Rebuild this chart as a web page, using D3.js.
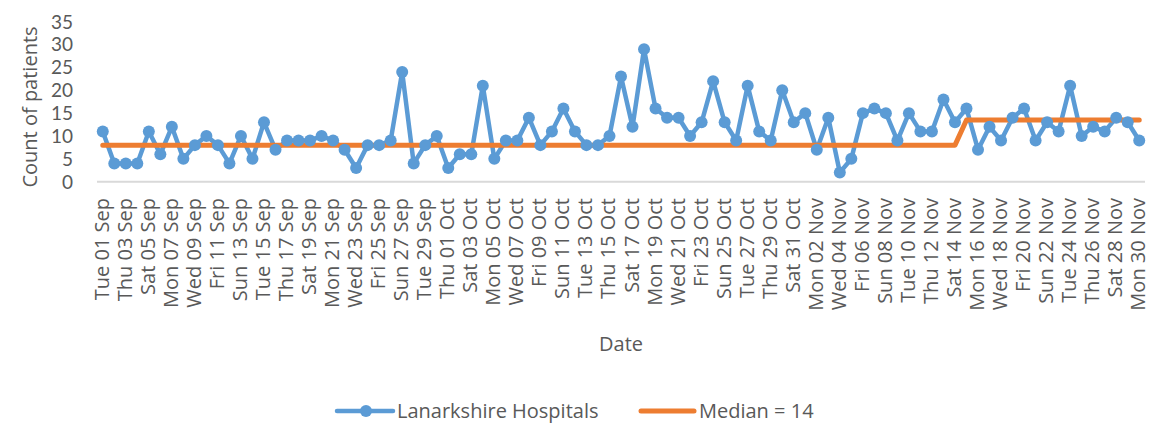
<!DOCTYPE html>
<html>
<head>
<meta charset="utf-8">
<script src="https://cdn.jsdelivr.net/npm/d3@7"></script>
<style>
  html, body { margin: 0; padding: 0; background: #ffffff; }
  svg { display: block; font-family: "Open Sans", sans-serif; }
</style>
</head>
<body>
<svg id="chart" width="1150" height="424"></svg>
<script>
const dates = [
  "Tue 01 Sep","Wed 02 Sep","Thu 03 Sep","Fri 04 Sep","Sat 05 Sep","Sun 06 Sep","Mon 07 Sep","Tue 08 Sep","Wed 09 Sep","Thu 10 Sep",
  "Fri 11 Sep","Sat 12 Sep","Sun 13 Sep","Mon 14 Sep","Tue 15 Sep","Wed 16 Sep","Thu 17 Sep","Fri 18 Sep","Sat 19 Sep","Sun 20 Sep",
  "Mon 21 Sep","Tue 22 Sep","Wed 23 Sep","Thu 24 Sep","Fri 25 Sep","Sat 26 Sep","Sun 27 Sep","Mon 28 Sep","Tue 29 Sep","Wed 30 Sep",
  "Thu 01 Oct","Fri 02 Oct","Sat 03 Oct","Sun 04 Oct","Mon 05 Oct","Tue 06 Oct","Wed 07 Oct","Thu 08 Oct","Fri 09 Oct","Sat 10 Oct",
  "Sun 11 Oct","Mon 12 Oct","Tue 13 Oct","Wed 14 Oct","Thu 15 Oct","Fri 16 Oct","Sat 17 Oct","Sun 18 Oct","Mon 19 Oct","Tue 20 Oct",
  "Wed 21 Oct","Thu 22 Oct","Fri 23 Oct","Sat 24 Oct","Sun 25 Oct","Mon 26 Oct","Tue 27 Oct","Wed 28 Oct","Thu 29 Oct","Fri 30 Oct",
  "Sat 31 Oct","Sun 01 Nov","Mon 02 Nov","Tue 03 Nov","Wed 04 Nov","Thu 05 Nov","Fri 06 Nov","Sat 07 Nov","Sun 08 Nov","Mon 09 Nov",
  "Tue 10 Nov","Wed 11 Nov","Thu 12 Nov","Fri 13 Nov","Sat 14 Nov","Sun 15 Nov","Mon 16 Nov","Tue 17 Nov","Wed 18 Nov","Thu 19 Nov",
  "Fri 20 Nov","Sat 21 Nov","Sun 22 Nov","Mon 23 Nov","Tue 24 Nov","Wed 25 Nov","Thu 26 Nov","Fri 27 Nov","Sat 28 Nov","Sun 29 Nov",
  "Mon 30 Nov"
];

const patients = [
  11,4,4,4,11,6,12,5,8,10,
  8,4,10,5,13,7,9,9,9,10,
  9,7,3,8,8,9,24,4,8,10,
  3,6,6,21,5,9,9,14,8,11,
  16,11,8,8,10,23,12,29,16,14,
  14,10,13,22,13,9,21,11,9,20,
  13,15,7,14,2,5,15,16,15,9,
  15,11,11,18,13,16,7,12,9,14,
  16,9,13,11,21,10,12,11,14,13,
  9
];

const median = [
  8,8,8,8,8,8,8,8,8,8,
  8,8,8,8,8,8,8,8,8,8,
  8,8,8,8,8,8,8,8,8,8,
  8,8,8,8,8,8,8,8,8,8,
  8,8,8,8,8,8,8,8,8,8,
  8,8,8,8,8,8,8,8,8,8,
  8,8,8,8,8,8,8,8,8,8,
  8,8,8,8,8,13.5,13.5,13.5,13.5,13.5,
  13.5,13.5,13.5,13.5,13.5,13.5,13.5,13.5,13.5,13.5,
  13.5
];

const yTicks = [0,5,10,15,20,25,30,35];
const seriesNames = ["Lanarkshire Hospitals", "Median = 14"];
const yTitle = "Count of patients";
const xTitle = "Date";

const blue = "#5b9bd5", orange = "#ed7d31", textCol = "#595959";

const svg = d3.select("#chart");

const x = d3.scalePoint().domain(dates).range([97, 1145]).padding(0.5);
const y = d3.scaleLinear().domain([0, 35]).range([181.7, 21.7]);

// y tick labels
svg.append("g").selectAll("text").data(yTicks).join("text")
  .attr("x", 73).attr("y", d => y(d)).attr("dy", "0.36em")
  .attr("text-anchor", "end").attr("fill", textCol)
  .style("font-family", "Lato, sans-serif").style("font-size", "19px")
  .text(d => d);

// x axis line
svg.append("line").attr("x1", 97).attr("x2", 1145)
  .attr("y1", y(0)).attr("y2", y(0))
  .attr("stroke", "#d9d9d9").attr("stroke-width", 2);

// x tick labels (every other category)
svg.append("g").selectAll("text").data(dates.filter((d, i) => i % 2 === 0)).join("text")
  .attr("transform", d => `translate(${x(d)},198) rotate(-90)`)
  .attr("dy", "0.3em").attr("text-anchor", "end")
  .attr("fill", textCol).style("font-size", "20px")
  .text(d => d);

// axis titles
svg.append("text").attr("transform", "translate(30,107) rotate(-90)")
  .attr("dy", "0.35em").attr("text-anchor", "middle")
  .attr("fill", textCol).style("font-size", "20px").text(yTitle);
svg.append("text").attr("x", 621).attr("y", 351)
  .attr("text-anchor", "middle").attr("fill", textCol).style("font-size", "20px").text(xTitle);

// series
const lineP = d3.line().x((d, i) => x(dates[i])).y(d => y(d));

svg.append("path").datum(patients).attr("d", lineP)
  .attr("fill", "none").attr("stroke", blue).attr("stroke-width", 4.5)
  .attr("stroke-linejoin", "round").attr("stroke-linecap", "round");

svg.append("path").datum(median).attr("d", lineP)
  .attr("fill", "none").attr("stroke", orange).attr("stroke-width", 5)
  .attr("stroke-linejoin", "round").attr("stroke-linecap", "round");

svg.append("g").selectAll("circle").data(patients).join("circle")
  .attr("cx", (d, i) => x(dates[i])).attr("cy", d => y(d)).attr("r", 6)
  .attr("fill", blue);

// legend
const ly = 411;
const lg = svg.append("g");
lg.append("line").attr("x1", 337).attr("x2", 393).attr("y1", ly).attr("y2", ly)
  .attr("stroke", blue).attr("stroke-width", 4.5).attr("stroke-linecap", "round");
lg.append("circle").attr("cx", 366).attr("cy", ly).attr("r", 6).attr("fill", blue);
lg.append("text").attr("x", 397).attr("y", ly).attr("dy", "0.35em")
  .attr("fill", textCol).style("font-size", "20px").text(seriesNames[0]);
lg.append("line").attr("x1", 641).attr("x2", 694).attr("y1", ly).attr("y2", ly)
  .attr("stroke", orange).attr("stroke-width", 5).attr("stroke-linecap", "round");
lg.append("text").attr("x", 699).attr("y", ly).attr("dy", "0.35em")
  .attr("fill", textCol).style("font-size", "20px").text(seriesNames[1]);
</script>
</body>
</html>
